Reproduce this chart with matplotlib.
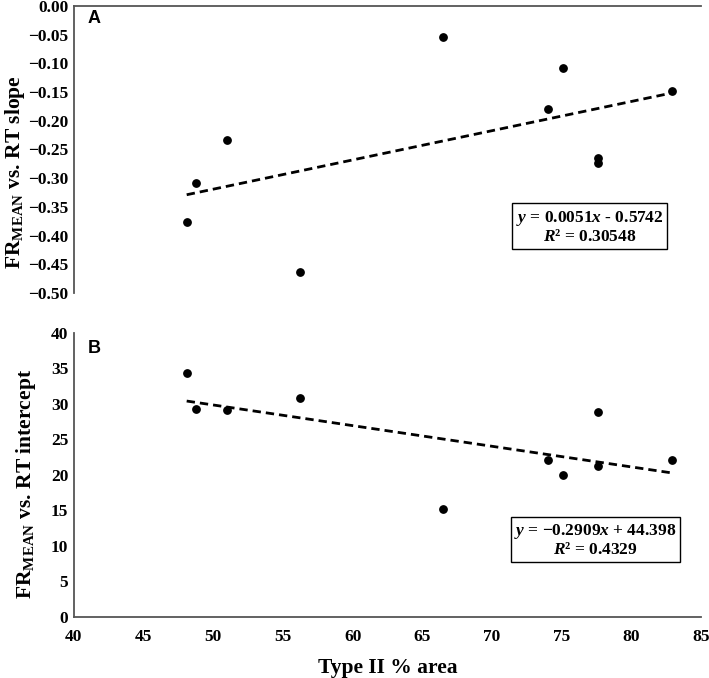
import numpy as np
import matplotlib
matplotlib.use("Agg")
import matplotlib.pyplot as plt

plt.rcParams['font.family'] = 'Liberation Serif'
plt.rcParams['font.weight'] = 'bold'
plt.rcParams['axes.labelweight'] = 'bold'
plt.rcParams['mathtext.fontset'] = 'custom'
plt.rcParams['mathtext.rm'] = 'Liberation Serif:bold'
plt.rcParams['mathtext.it'] = 'Liberation Serif:italic:bold'
plt.rcParams['mathtext.bf'] = 'Liberation Serif:bold'

# Type II % area
type2 = [48.1, 48.8, 51.0, 56.2, 66.5, 74.0, 75.1, 77.6, 77.6, 82.9]
# panel A: FRmean vs RT slope
slope = [-0.376, -0.308, -0.233, -0.463, -0.054, -0.179, -0.108, -0.265, -0.273, -0.148]
# panel B: FRmean vs RT intercept
intercept = [34.4, 29.3, 29.1, 30.8, 15.2, 22.1, 20.0, 28.9, 21.3, 22.1]

fitA = (0.0051, -0.5742)
fitB = (-0.2909, 44.398)

fig = plt.figure(figsize=(7.09, 6.78), dpi=100)
axA = fig.add_axes([0.104, 0.568, 0.885, 0.423])
axB = fig.add_axes([0.104, 0.090, 0.885, 0.419])

spine_col = '#555555'
xs = np.array([min(type2), max(type2)])

# panel A
axA.scatter(type2, slope, s=28, color='black', zorder=3)
axA.plot(xs, fitA[0] * xs + fitA[1], color='black', lw=2, ls=(0, (3, 1.8)))
axA.set_xlim(40, 85)
axA.set_ylim(-0.5, 0)
yA = np.round(np.arange(-0.5, 0.001, 0.05), 2)
axA.set_yticks(yA)
axA.set_yticklabels(["0.00" if v == 0 else f"{v:.2f}".replace('-', '\u2212') for v in yA])
axA.set_xticks([])
for s in ['right', 'bottom']:
    axA.spines[s].set_visible(False)
for s in ['top', 'left']:
    axA.spines[s].set_color(spine_col)
    axA.spines[s].set_linewidth(1.3)
axA.tick_params(length=0, labelsize=12.5, pad=4)
axA.set_ylabel("FR$_{\\mathrm{MEAN}}$ vs. RT slope", fontsize=15.5)
axA.yaxis.set_label_coords(-0.074, 0.42)
axA.text(0.022, 0.94, "A", transform=axA.transAxes, family='Liberation Sans',
         fontweight='bold', fontsize=13)
axA.text(77.0, -0.385, "$y$ = 0.0051$x$ - 0.5742\n$R$\u00b2 = 0.30548", ha='center',
         va='center', fontsize=12.5, linespacing=1.1,
         bbox=dict(boxstyle='square,pad=0.2', fc='white', ec='black', lw=1))

# panel B
axB.scatter(type2, intercept, s=28, color='black', zorder=3)
axB.plot(xs, fitB[0] * xs + fitB[1], color='black', lw=2, ls=(0, (3, 1.8)))
axB.set_xlim(40, 85)
axB.set_ylim(0, 40)
axB.set_xticks(range(40, 86, 5))
axB.set_yticks(range(0, 41, 5))
for s in ['right', 'top']:
    axB.spines[s].set_visible(False)
for s in ['bottom', 'left']:
    axB.spines[s].set_color(spine_col)
    axB.spines[s].set_linewidth(1.3)
axB.tick_params(length=0, labelsize=12.5, pad=4)
axB.tick_params(axis='x', pad=9)
axB.set_ylabel("FR$_{\\mathrm{MEAN}}$ vs. RT intercept", fontsize=15.5)
axB.yaxis.set_label_coords(-0.057, 0.47)
axB.set_xlabel("Type II % area", fontsize=15.5, labelpad=9)
axB.text(0.022, 0.93, "B", transform=axB.transAxes, family='Liberation Sans',
         fontweight='bold', fontsize=13)
axB.text(77.4, 10.8, "$y$ = \u22120.2909$x$ + 44.398\n$R$\u00b2 = 0.4329", ha='center',
         va='center', fontsize=12.5, linespacing=1.1,
         bbox=dict(boxstyle='square,pad=0.2', fc='white', ec='black', lw=1))

fig.savefig("out.png", dpi=100)
